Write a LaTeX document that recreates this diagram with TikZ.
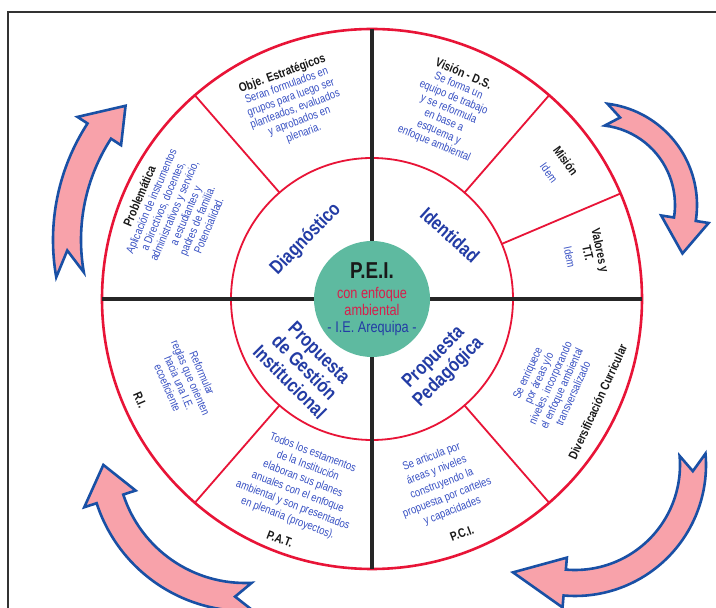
\documentclass[tikz,border=0pt]{standalone}
\usepackage{fontspec}
\usetikzlibrary{calc}
\newfontfamily\cond{Liberation Sans}[FakeStretch=0.82]

\definecolor{rojo}{RGB}{232,20,55}
\definecolor{azul}{RGB}{35,60,165}
\definecolor{azulclaro}{RGB}{55,80,195}
\definecolor{verde}{RGB}{94,186,160}
\definecolor{rosa}{RGB}{248,162,170}
\definecolor{borde}{RGB}{25,80,165}
\definecolor{carmin}{RGB}{215,30,75}

\tikzset{
  titulo/.style={font=\cond\bfseries\fontsize{12.5}{14}\selectfont, text=black!90, align=center, inner sep=0pt},
  cuerpo/.style={font=\cond\fontsize{11.5}{12.5}\selectfont, text=azulclaro, align=center, inner sep=0pt},
  sector/.style={font=\cond\bfseries\fontsize{19.5}{21}\selectfont, text=azul, align=center, inner sep=0pt},
  flecha/.style={draw=borde, fill=rosa, line width=2.6pt, line join=miter},
}
\newcommand{\tit}[1]{{\color{black!90}\bfseries\fontsize{12.5}{14}\selectfont #1}}
% curved block arrow: centre, r in, r out, tail, notch, head base, tip angle, tip radius, barb
\newcommand{\flechacurva}[9]{%
  \draw[flecha] ($(#1)+(#4:#3)$) arc[start angle=#4, end angle=#6, radius=#3]
    -- ($(#1)+(#6:{#3+#9})$) -- ($(#1)+(#7:#8)$) -- ($(#1)+(#6:{#2-#9})$)
    -- ($(#1)+(#6:#2)$) arc[start angle=#6, end angle=#4, radius=#2]
    -- ($(#1)+(#5:{(#2+#3)/2})$) -- cycle;}

\begin{document}
\begin{tikzpicture}[x=1pt,y=1pt,line cap=round]

	\useasboundingbox (0,0) rectangle (716,608);
	\fill[white] (0,0) rectangle (716,608);
	\clip (0,0) rectangle (716,608);

		% frame
		\draw[line width=1.6pt, black!80] (8,-2) -- (8,596) -- (718,596);

		\coordinate (O) at (372,309);
		\coordinate (cTL) at (267,368);
		\coordinate (cTR) at (595,403);
		\coordinate (cBR) at (575,143);
		\coordinate (cBL) at (245,153);

		% arrows around the wheel
		\flechacurva{cTL}{186}{214}{190}{183}{147}{136.5}{195}{12}
		\flechacurva{cTR}{80}{102}{83}{74}{-9}{-29}{100}{13}
		\flechacurva{cBR}{105}{131}{5}{-3}{-95}{-120}{124}{12}
		\flechacurva{cBL}{128}{156}{273}{266}{198}{184}{142}{13}

		% the circles and sectors
		\draw[rojo, line width=2.6pt] (O) circle[radius=270];
		\foreach \a in {23,49,131,229,311}
			\draw[rojo, line width=1.8pt] ($(O)+(\a:141)$) -- ($(O)+(\a:270)$);
		\draw[rojo, line width=1.8pt] (O) circle[radius=141];

		% cross
		\draw[black!85, line width=3.5pt, line cap=butt] ($(O)+(180:270)$) -- ($(O)+(0:270)$);
		\draw[black!85, line width=3.5pt, line cap=butt] ($(O)+(90:270)$) -- ($(O)+(270:270)$);

		% centre
		\node[circle, fill=verde, minimum size=116pt, inner sep=0pt, align=center,
			font=\cond\fontsize{15.5}{17}\selectfont] (pei) at (O)
			{{\color{black!90}\bfseries\fontsize{23}{23}\selectfont P.E.I.}\\[3pt]
			 \textcolor{carmin}{con enfoque}\\\textcolor{carmin}{ambiental}\\\textcolor{azul}{- I.E. Arequipa -}};

		% inner ring
		\node[sector, rotate=46] (diag) at ($(O)+(138:89)$) {Diagnóstico};
		\node[sector, rotate=-42] (ident) at ($(O)+(39.4:101)$) {Identidad};
		\node[sector, rotate=-45] (gestion) at ($(O)+(225.4:96)$) {Propuesta\\de Gestión\\Institucional};
		\node[sector, rotate=45] (pedag) at ($(O)+(316.3:96)$) {Propuesta\\Pedagógica};

		% outer ring, top
		\node[cuerpo, rotate=20] (objest) at ($(O)+(112:211)$)
			{\tit{Obje. Estratégicos}\\Seran formulados en\\grupos para luego ser\\planteados, evaluados\\y aprobados en\\plenaria.};
		\node[cuerpo, rotate=-23] (vision) at ($(O)+(68:205)$)
			{\tit{Visión - D.S.}\\Se forma un\\equipo de trabajo\\y se reformula\\en base a\\esquema y\\enfoque ambiental};
		\node[cuerpo, rotate=-54] (mision) at ($(O)+(35.5:228)$) {\tit{Misión}\\[8pt]Idem};
		\node[cuerpo, rotate=-78] (valores) at ($(O)+(12:218)$) {\tit{Valores y}\\\tit{T.T.}\\[6pt]Idem};
		\node[cuerpo, rotate=67] (problema) at ($(O)+(156:217)$)
			{\tit{Problemática}\\Aplicación de instrumentos\\a Directivos, docentes,\\administrativos y servicio,\\a estudiantes y\\padres de familia.\\Potencialidad.};

		% outer ring, bottom
		\node[cuerpo, rotate=-66.5] (ri-texto) at ($(O)+(203.5:204)$) {Reformular\\reglas que orienten\\hacia una I.E.\\ecoeficiente};
		\node[titulo, rotate=-66.5] (ri) at ($(O)+(203.5:253)$) {R.I.};
		\node[cuerpo, rotate=-21, font=\cond\fontsize{11.5}{14}\selectfont] (pat-texto) at ($(O)+(249:200)$)
			{Todos los estamentos\\de la Institución\\elaboran sus planes\\anuales con el enfoque\\ambiental y son presentados\\en plenaria (proyectos).};
		\node[titulo, rotate=-21] (pat) at ($(O)+(249:257)$) {P.A.T.};
		\node[cuerpo, rotate=21, font=\cond\fontsize{11.5}{14.5}\selectfont] (pci-texto) at ($(O)+(290.7:198)$)
			{Se articula por\\áreas y niveles\\construyendo la\\propuesta por carteles\\y capacidades};
		\node[titulo, rotate=21] (pci) at ($(O)+(291:251)$) {P.C.I.};
		\node[cuerpo, rotate=65.5] (dc-texto) at ($(O)+(334.7:197)$)
			{Se enriquece\\por áreas y/o\\niveles, incorporando\\el enfoque ambiental\\transversalizado};
		\node[titulo, rotate=65.5] (dc) at ($(O)+(335.5:248)$) {Diversificación Curricular};

	\end{tikzpicture}
\end{document}
